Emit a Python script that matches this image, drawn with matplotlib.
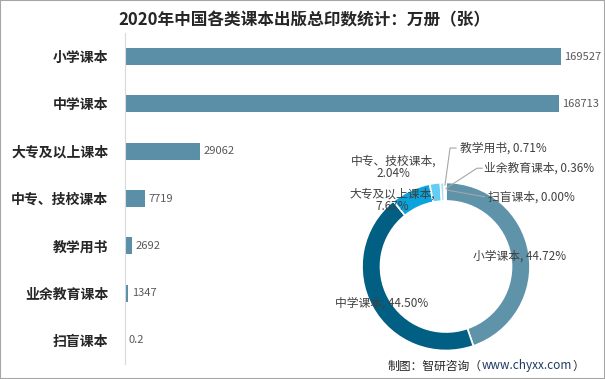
import matplotlib.pyplot as plt
from matplotlib.patches import Rectangle

plt.rcParams['font.family'] = ['Noto Sans CJK SC', 'DejaVu Sans']

categories = ["小学课本", "中学课本", "大专及以上课本", "中专、技校课本", "教学用书", "业余教育课本", "扫盲课本"]
values = [169527, 168713, 29062, 7719, 2692, 1347, 0.2]
value_labels = ["169527", "168713", "29062", "7719", "2692", "1347", "0.2"]
pie_pct = [44.72, 44.50, 7.67, 2.04, 0.71, 0.36, 0.00]

bar_color = "#5B8FA8"
pie_colors = ["#5F93AA", "#005F82", "#0AA3DC", "#64CDF4", "#A6DDF0", "#D6EEF7", "#E8F4F8"]

W, H = 605, 379
fig = plt.figure(figsize=(W / 100, H / 100), dpi=100)
fig.patches.append(Rectangle((0, 0), 1, 1, transform=fig.transFigure, fill=False,
                             edgecolor="#A6A6A6", linewidth=1.5))

fig.text(304 / W, 1 - 20 / H, "2020年中国各类课本出版总印数统计：万册（张）",
         ha="center", va="center", fontsize=12, fontweight="bold", color="#262626")

# bar chart
ax = fig.add_axes([125 / W, 15 / H, 475 / W, 331 / H])
y = range(len(categories))
ax.barh(y, values, height=0.36, color=bar_color)
ax.set_xlim(0, 169527 * 475 / 436)
ax.set_ylim(len(categories) - 0.5, -0.5)
ax.set_yticks(list(y), categories)
ax.tick_params(axis="y", length=0, pad=12, labelsize=10)
for lab in ax.get_yticklabels():
    lab.set_fontweight("bold")
    lab.set_color("#262626")
ax.set_xticks([])
for s in ["top", "right", "bottom"]:
    ax.spines[s].set_visible(False)
ax.spines["left"].set_color("#D9D9D9")
for i, (v, t) in enumerate(zip(values, value_labels)):
    ax.annotate(t, (v, i), xytext=(2.5, 0), textcoords="offset points",
                va="center", ha="left", fontsize=8, color="#595959")

# donut
cx, cy, r = 446, 266.5, 84
ax2 = fig.add_axes([(cx - r) / W, (H - cy - r) / H, 2 * r / W, 2 * r / H])
ax2.pie(pie_pct, colors=pie_colors, startangle=90, counterclock=False, radius=1,
        wedgeprops=dict(width=0.22, edgecolor="white", linewidth=1.2))
ax2.set_xlim(-1, 1)
ax2.set_ylim(-1, 1)
ax2.set_axis_off()

lab_style = dict(fontsize=8.5, color="#404040")
ax2.text(0.88, 0.12, "小学课本, 44.72%", ha="center", va="center", **lab_style)
ax2.text(-0.77, -0.44, "中学课本, 44.50%", ha="center", va="center", **lab_style)
ax2.text(-0.64, 0.79, "大专及以上课本,\n7.67%", ha="center", va="center",
         linespacing=0.95, **lab_style)
ax2.text(-0.62, 1.18, "中专、技校课本,\n2.04%", ha="center", va="center",
         linespacing=0.95, **lab_style)
ax2.text(0.17, 1.41, "教学用书, 0.71%", ha="left", va="center", **lab_style)
ax2.text(0.45, 1.17, "业余教育课本, 0.36%", ha="left", va="center", **lab_style)
ax2.text(0.50, 0.83, "扫盲课本, 0.00%", ha="left", va="center", **lab_style)

line_style = dict(color="#A6A6A6", linewidth=0.8, clip_on=False)
ax2.plot([-0.012, 0.048, 0.12], [0.97, 1.41, 1.41], **line_style)
ax2.plot([0.0, 0.369, 0.43], [0.93, 1.17, 1.17], **line_style)
ax2.plot([0.012, 0.46], [0.91, 0.83], **line_style)

# source
t1 = fig.text(388 / W, 1 - 366 / H, "制图：智研咨询（", ha="left", va="center",
              fontsize=8.5, color="#262626")
t2 = fig.text(0, 0, "www.chyxx.com", ha="left", va="center",
              fontsize=8.5, color="#1F3864")
fig.canvas.draw()
bb = t1.get_window_extent()
t2.set_position((bb.x1 / W, 1 - 366 / H))
fig.canvas.draw()
bb2 = t2.get_window_extent()
fig.text(bb2.x1 / W, 1 - 366 / H, "）", ha="left", va="center",
         fontsize=8.5, color="#262626")

fig.savefig("out.png", dpi=100)
